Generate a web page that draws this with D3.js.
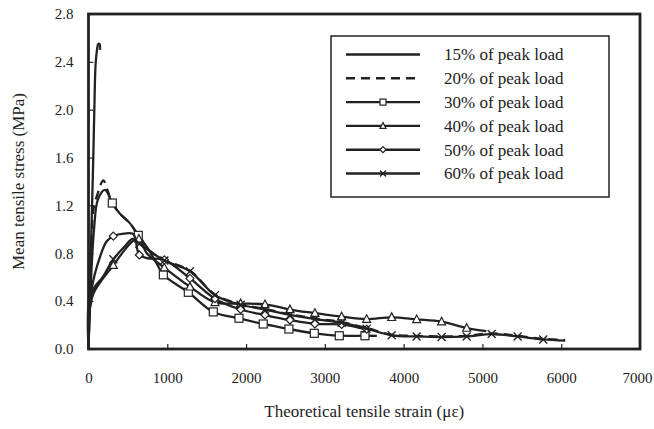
<!DOCTYPE html>
<html>
<head>
<meta charset="utf-8">
<script src="https://cdn.jsdelivr.net/npm/d3@7"></script>
<style>
  body { margin: 0; background: #fff; }
  text { font-family: "Liberation Serif", "Times New Roman", serif; fill: #222; }
</style>
</head>
<body>
<svg id="chart" width="654" height="429"></svg>
<script>
// Axis tick values
const xTicks = [0, 1000, 2000, 3000, 4000, 5000, 6000, 7000];
const yTicks = [0, 0.4, 0.8, 1.2, 1.6, 2.0, 2.4, 2.8];

// Series labels
const seriesNames = ["15% of peak load", "20% of peak load", "30% of peak load",
                     "40% of peak load", "50% of peak load", "60% of peak load"];

// 15% of peak load
const strain15 = [0, 12, 28, 45, 60, 74, 90, 108, 124, 140, 146];
const stress15 = [0, 0.35, 0.75, 1.2, 1.58, 2.0, 2.38, 2.5, 2.55, 2.55, 2.5];

// 20% of peak load
const strain20 = [0, 25, 61, 112, 188, 240, 302, 400, 527, 632, 780, 962, 1288, 1605, 1931, 2240, 2557, 2874, 3213, 3530, 3848, 4165, 4482, 4800, 5117, 5447, 5772, 6050];
const stress20 = [0, 0.6, 1.16, 1.29, 1.41, 1.33, 1.22, 1.13, 1.05, 0.95, 0.82, 0.745, 0.655, 0.455, 0.375, 0.335, 0.29, 0.255, 0.225, 0.175, 0.12, 0.11, 0.105, 0.11, 0.13, 0.11, 0.085, 0.075];

// 30% of peak load
const strain30 = [0, 30, 70, 120, 209, 302, 400, 527, 632, 738, 865, 950, 1267, 1584, 1910, 2218, 2544, 2866, 3183, 3509, 3660];
const stress30 = [0, 0.55, 1.0, 1.25, 1.33, 1.22, 1.13, 1.05, 0.95, 0.855, 0.716, 0.62, 0.474, 0.31, 0.257, 0.209, 0.167, 0.131, 0.111, 0.111, 0.11];
const marks30 = [5, 8, 11, 12, 13, 14, 15, 16, 17, 18, 19];

// 40% of peak load
const strain40 = [0, 15, 60, 150, 315, 450, 560, 640, 740, 962, 1288, 1605, 1931, 2240, 2557, 2874, 3213, 3530, 3848, 4165, 4482, 4800, 5050];
const stress40 = [0, 0.32, 0.46, 0.56, 0.70, 0.82, 0.90, 0.92, 0.80, 0.68, 0.52, 0.39, 0.38, 0.373, 0.33, 0.30, 0.27, 0.25, 0.265, 0.248, 0.228, 0.175, 0.15];
const marks40 = [4, 7, 9, 10, 11, 12, 13, 14, 15, 16, 17, 18, 19, 20, 21];

// 50% of peak load
const strain50 = [0, 40, 146, 231, 315, 450, 569, 645, 740, 962, 1288, 1605, 1931, 2240, 2557, 2874, 3213, 3530, 3620];
const stress50 = [0, 0.5, 0.77, 0.90, 0.944, 0.965, 0.96, 0.786, 0.76, 0.745, 0.59, 0.42, 0.33, 0.284, 0.242, 0.21, 0.205, 0.165, 0.16];
const marks50 = [4, 7, 9, 10, 11, 12, 13, 14, 15, 16, 17];

// 60% of peak load
const strain60 = [0, 10, 80, 180, 315, 450, 560, 645, 962, 1288, 1605, 1931, 2240, 2557, 2874, 3213, 3530, 3848, 4165, 4482, 4800, 5117, 5447, 5772, 6050];
const stress60 = [0, 0.42, 0.52, 0.6, 0.75, 0.85, 0.92, 0.88, 0.74, 0.65, 0.45, 0.37, 0.33, 0.285, 0.25, 0.22, 0.17, 0.115, 0.105, 0.10, 0.105, 0.125, 0.105, 0.08, 0.07];
const marks60 = [4, 7, 8, 9, 10, 11, 12, 13, 14, 15, 16, 17, 18, 19, 20, 21, 22, 23];

const ink = "#222";
const svg = d3.select("#chart");

const x = d3.scaleLinear().domain([0, 7000]).range([88.5, 640]);
const y = d3.scaleLinear().domain([0, 2.8]).range([349, 14]);

// Axes with inward ticks
const xAxis = svg.append("g").attr("transform", `translate(0,${y(0)})`)
  .call(d3.axisBottom(x).tickValues(xTicks).tickFormat(d3.format("d"))
        .tickSizeInner(-5).tickSizeOuter(0).tickPadding(23));
const yAxis = svg.append("g").attr("transform", `translate(${x(0)},0)`)
  .call(d3.axisLeft(y).tickValues(yTicks).tickFormat(d3.format(".1f"))
        .tickSizeInner(-5).tickSizeOuter(0).tickPadding(15));
[xAxis, yAxis].forEach(g => {
  g.select(".domain").remove();
  g.selectAll(".tick line").attr("stroke", ink).attr("stroke-width", 1.2);
  g.selectAll(".tick text").style("font-family", '"Liberation Serif", serif')
    .style("font-size", "15px").attr("fill", ink);
});
// keep the last strain label inside the page edge
xAxis.selectAll(".tick text").filter(d => d === 7000).attr("dx", -3);

// Plot frame
svg.append("rect")
  .attr("x", x(0)).attr("y", y(2.8))
  .attr("width", x(7000) - x(0)).attr("height", y(0) - y(2.8))
  .attr("fill", "none").attr("stroke", ink).attr("stroke-width", 2.8);

// Axis titles
svg.append("text")
  .attr("x", (x(0) + x(7000)) / 2).attr("y", 417)
  .attr("text-anchor", "middle").style("font-size", "17px")
  .text("Theoretical tensile strain (με)");
svg.append("text")
  .attr("transform", `translate(24,${(y(0) + y(2.8)) / 2}) rotate(-90)`)
  .attr("text-anchor", "middle").style("font-size", "17px")
  .text("Mean tensile stress (MPa)");

// Marker shapes
function marker(g, type, cx, cy, s) {
  const h = s / 2;
  if (type === "square") {
    g.append("rect").attr("x", cx - h).attr("y", cy - h).attr("width", s).attr("height", s)
      .attr("fill", "#fff").attr("stroke", ink).attr("stroke-width", 1.2);
  } else if (type === "triangle") {
    g.append("path").attr("d", `M${cx},${cy - h * 1.1}L${cx + h},${cy + h * 0.8}L${cx - h},${cy + h * 0.8}Z`)
      .attr("fill", "#fff").attr("stroke", ink).attr("stroke-width", 1.2);
  } else if (type === "diamond") {
    g.append("path").attr("d", `M${cx},${cy - h}L${cx + h},${cy}L${cx},${cy + h}L${cx - h},${cy}Z`)
      .attr("fill", "#fff").attr("stroke", ink).attr("stroke-width", 1.2);
  } else if (type === "cross") {
    g.append("path").attr("d", `M${cx - h},${cy - h}L${cx + h},${cy + h}M${cx - h},${cy + h}L${cx + h},${cy - h}`)
      .attr("fill", "none").attr("stroke", ink).attr("stroke-width", 1.3);
  }
}

const series = [
  { name: seriesNames[0], xs: strain15, ys: stress15, marks: [], type: null, dash: null },
  { name: seriesNames[1], xs: strain20, ys: stress20, marks: [], type: null, dash: "9,6" },
  { name: seriesNames[2], xs: strain30, ys: stress30, marks: marks30, type: "square", dash: null },
  { name: seriesNames[3], xs: strain40, ys: stress40, marks: marks40, type: "triangle", dash: null },
  { name: seriesNames[4], xs: strain50, ys: stress50, marks: marks50, type: "diamond", dash: null },
  { name: seriesNames[5], xs: strain60, ys: stress60, marks: marks60, type: "cross", dash: null }
];

const line = d3.line().x(d => x(d[0])).y(d => y(d[1])).curve(d3.curveCatmullRom.alpha(0.5));
const plot = svg.append("g");

series.forEach(s => {
  const pts = s.xs.map((v, i) => [v, s.ys[i]]);
  const g = plot.append("g");
  g.append("path").attr("d", line(pts))
    .attr("fill", "none").attr("stroke", ink).attr("stroke-width", 2.3)
    .attr("stroke-linejoin", "round")
    .attr("stroke-dasharray", s.dash);
  s.marks.forEach(i => marker(g, s.type, x(pts[i][0]), y(pts[i][1]), 8));
});

// Legend
const lg = svg.append("g");
lg.append("rect").attr("x", 331).attr("y", 36).attr("width", 278).attr("height", 161)
  .attr("fill", "#fff").attr("stroke", ink).attr("stroke-width", 1.5);
series.forEach((s, i) => {
  const cy = 54.5 + i * 23.8;
  lg.append("line").attr("x1", 346).attr("x2", 420).attr("y1", cy).attr("y2", cy)
    .attr("stroke", ink).attr("stroke-width", 2.4).attr("stroke-dasharray", s.dash);
  if (s.type) marker(lg, s.type, 383, cy, 6);
  lg.append("text").attr("x", 444).attr("y", cy).attr("dy", "0.35em")
    .style("font-size", "17px").text(s.name);
});
</script>
</body>
</html>
